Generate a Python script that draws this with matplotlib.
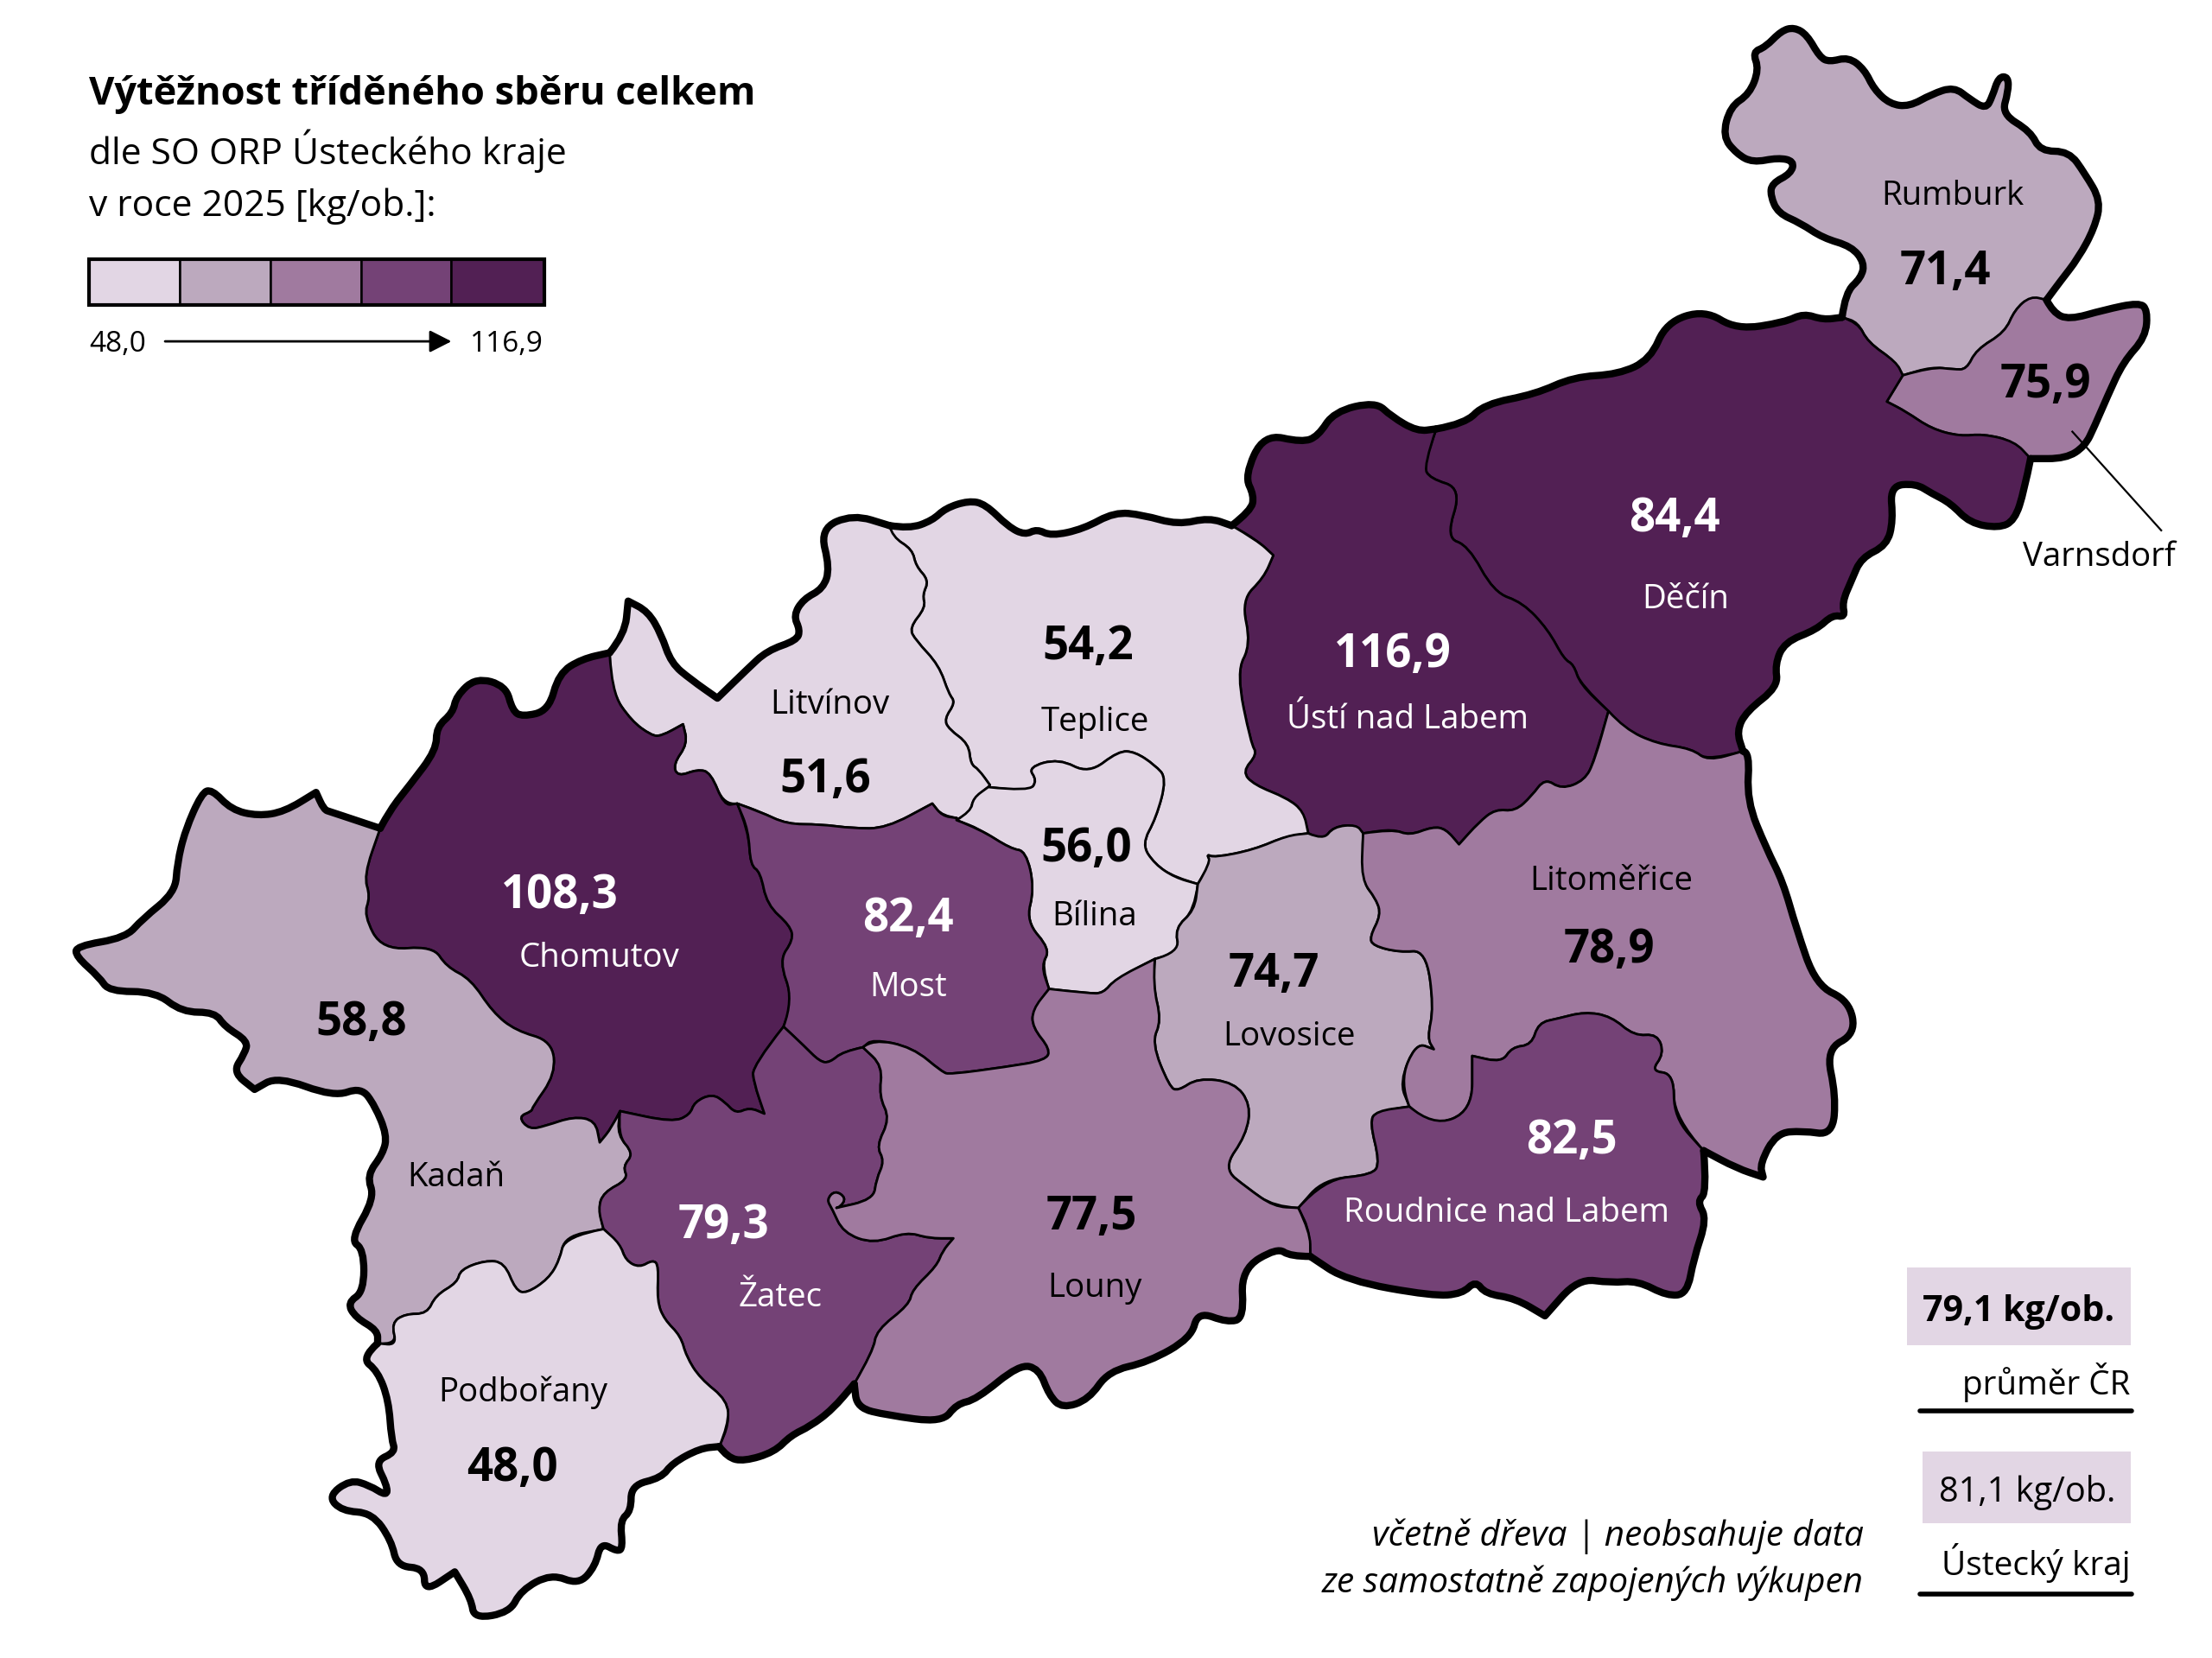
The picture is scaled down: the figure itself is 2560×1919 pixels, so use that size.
#!/usr/bin/env python
import matplotlib
matplotlib.use('Agg')
import matplotlib.pyplot as plt
from matplotlib.path import Path
from matplotlib.patches import PathPatch, Rectangle

plt.rcParams['font.family'] = ['Open Sans', 'DejaVu Sans']

#--values
orp_names = ['Rumburk', 'Varnsdorf', 'Děčín', 'Ústí nad Labem', 'Teplice', 'Litvínov', 'Bílina', 'Chomutov',
             'Most', 'Kadaň', 'Lovosice', 'Litoměřice', 'Roudnice nad Labem', 'Žatec', 'Louny', 'Podbořany']
orp_values = [71.4, 75.9, 84.4, 116.9, 54.2, 51.6, 56.0, 108.3, 82.4, 58.8, 74.7, 78.9, 82.5, 79.3, 77.5, 48.0]
orp_class = [1, 2, 4, 4, 0, 0, 0, 4, 3, 1, 1, 2, 3, 3, 2, 0]
class_colors = ['#E2D6E4', '#BCA9BE', '#A07A9F', '#744276', '#522054']
value_pos = [(1379, 193), (1450, 273), (1187, 368), (987, 464), (771, 459), (585, 553), (770, 602), (397, 635),
             (644, 652), (256, 725), (903, 691), (1141, 674), (1114, 809), (513, 869), (774, 863), (363, 1041)]
name_pos = [(1384, 139), (1488, 395), (1195, 425), (998, 510), (776, 512), (588, 500), (776, 650), (425, 679),
            (644, 700), (323, 835), (914, 735), (1142, 625), (1068, 860), (553, 920), (776, 913), (371, 987)]

title = 'Výtěžnost tříděného sběru celkem'
subtitle = ['dle SO ORP Ústeckého kraje', 'v roce 2025 [kg/ob.]:']
scale_min, scale_max = '48,0', '116,9'
note = ['včetně dřeva | neobsahuje data', 'ze samostatně zapojených výkupen']
cr_avg, kraj_avg = '79,1 kg/ob.', '81,1 kg/ob.'

#--outlines were read from crops of the picture, each list is in its crop's units
#--a point written twice is a sharp tip
z2 = lambda P: [(857.3 + .453*x, .3515*y) for x, y in P]
z3 = lambda P: [(.4687*x, 336.8 + .2929*y) for x, y in P]
z4 = lambda P: [(183.7 + .3906*x, 765.5 + .2613*y) for x, y in P]
z5 = lambda P: [(612.4 + .4687*x, 520.5 + .3124*y) for x, y in P]

arcs = {}
arcs['rum_out'] = z2([(990,640),(995,590),(1020,560),(1025,530),(1005,497),(960,480),(925,450),(890,430),(878,395),(880,370),(910,350),(915,325),(890,318),(850,328),(825,310),(803,275),(815,215),(845,190),(860,140),(850,105),(870,95),(895,62),(915,55),(935,70),(955,115),(970,125),(1000,115),(1025,140),(1040,180),(1065,210),(1095,215),(1130,190),(1165,175),(1190,200),(1215,220),(1225,195),(1235,155),(1250,155),(1250,185),(1240,230),(1285,265),(1300,305),(1345,305),(1370,350),(1395,405),(1385,460),(1360,520),(1330,570),(1310,605)])
arcs['var_out'] = z2([(1310,605),(1320,630),(1345,645),(1400,625),(1455,610),(1468,625),(1465,680),(1430,730),(1405,800),(1385,860),(1370,900),(1340,925),(1285,925)])
arcs['rum_var'] = z2([(1310,605),(1285,597),(1260,625),(1245,670),(1200,705),(1185,745),(1165,745),(1130,740),(1085,757)])
arcs['rum_dec'] = z2([(990,640),(1015,650),(1030,690),(1075,730),(1085,757)])
arcs['var_dec'] = z2([(1085,757),(1060,810),(1060,810),(1090,830),(1130,865),(1175,880),(1210,875),(1260,890),(1285,925)])
arcs['dec_s'] = z2([(1285,925),(1275,990),(1260,1050),(1235,1065),(1190,1055),(1160,1015),(1130,995),(1105,975),(1065,980),(1070,1050),(1060,1100),(1020,1125),(1005,1170),(990,1215),(995,1245),(975,1240),(950,1270),(900,1295),(885,1340),(890,1385),(840,1435),(825,1475),(835,1515)])
arcs['dec_lit'] = z2([(835,1515),(780,1535),(755,1510),(700,1500),(650,1470),(625,1435)])
arcs['dec_ust'] = z2([(355,865),(335,940),(345,965),(395,985),(370,1085),(405,1100),(445,1195),(490,1215),(530,1270),(555,1330),(570,1340),(580,1380),(625,1435)])
arcs['dec_n'] = z2([(355,865),(400,855),(430,815),(510,795),(570,760),(640,755),(690,725),(715,650),(775,625),(825,665),(900,650),(930,632),(960,645),(990,640)])
arcs['ust_out'] = z2([(35,1060),(65,1030),(70,1000),(55,960),(85,875),(145,892),(170,880),(195,830),(260,810),(285,840),(325,870),(355,865)])
arcs['ust_tep'] = z2([(35,1060),(75,1090),(100,1120),(100,1120),(85,1165),(50,1210),(65,1300),(42,1355),(65,1500)]) + z5([(595,45),(572,85),(590,115),(640,145),(665,175),(672,225)])
arcs['ust_lov'] = z5([(672,225),(695,240),(710,210),(745,205),(755,225)])
arcs['ust_lit'] = z5([(755,225),(800,215),(825,230),(860,210),(880,215),(900,250),(900,250),(930,200),(955,170),(985,175),(1010,140),(1030,100),(1055,125),(1090,105),(1105,60),(1126,-52)])
arcs['cho_out'] = z3([(575,855),(590,810),(620,750),(660,665),(660,610),(685,575),(690,535),(720,490),(765,510),(775,570),(790,585),(830,570),(845,480),(880,445),(922,430)])
arcs['lit_out'] = z3([(922,430),(945,385),(950,305),(950,305),(980,330),(1000,385),(1015,455),(1045,495),(1085,540),(1085,540),(1130,470),(1160,425),(1205,400),(1210,375),(1200,340),(1215,300),(1245,275),(1255,225),(1240,130),(1290,95),(1345,122)])
arcs['tep_out'] = z3([(1345,122),(1375,130),(1410,110),(1430,80),(1465,62),(1490,70),(1525,125),(1550,145)]) + [(735,375),(745,380),(768,375),(790,363),(810,365),(835,372),(857,367),(873,372.6)]
arcs['lit_tep'] = z3([(1345,122),(1350,150),(1380,180),(1385,220),(1405,255),(1395,290),(1400,320),(1375,370),(1385,400),(1420,460),(1435,530),(1445,550),(1428,590),(1435,615),(1465,650),(1468,700),(1480,712),(1497,750)])
arcs['bil_tep'] = z5([(188,120),(250,130),(262,105),(248,75),(295,55),(340,90),(385,38),(410,40),(440,70),(458,100),(442,190),(420,250),(440,295),(470,325),(505,340)])
arcs['tep_lov'] = z5([(505,340),(525,290),(518,272),(530,280),(590,262),(640,230),(672,225)])
arcs['lit_bil'] = z5([(188,120),(165,145),(162,175),(140,195)])
arcs['lit_most'] = z3([(1447,830),(1425,825),(1410,795),(1410,795),(1340,855),(1290,855),(1240,845),(1190,845),(1150,815),(1115,795)])
arcs['lit_cho'] = z3([(1115,795),(1095,800),(1075,720),(1055,712),(1025,730),(1018,700),(1040,650),(1033,603),(1033,603),(1000,632),(985,630),(955,595),(925,525),(922,430)])
arcs['cho_most'] = z3([(1115,795),(1132,860),(1135,945),(1150,960),(1160,1040),(1195,1090),(1200,1125),(1178,1175),(1200,1270),(1185,1335)])
arcs['cho_zat'] = z3([(1185,1335),(1138,1430),(1140,1470)]) + z4([(917,92),(917,92),(890,75),(865,92),(845,60),(822,38),(790,60),(782,95),(750,115),(655,85)])
arcs['cho_kad'] = z3([(575,855),(550,970),(560,1020),(550,1065),(578,1150),(655,1140),(675,1190),(712,1220),(745,1300),(780,1345),(835,1370),(840,1450),(805,1530)]) + z4([(495,85),(470,100),(490,135),(520,125),(570,100),(610,110),(618,170),(618,170),(640,130),(655,85)])
arcs['kad_zat'] = z4([(655,85),(650,150),(680,200),(660,235),(670,270),(625,305),(615,350),(625,405)])
arcs['kad_pod'] = z4([(625,405),(555,425),(545,490),(525,540),(485,580),(465,570),(445,495),(410,490),(365,515),(360,550),(320,585),(305,635),(265,635),(240,660),(250,720),(215,715)])
arcs['kad_out'] = z3([(575,855),(500,815),(490,810),(478,768),(478,768),(430,815),(390,825),(350,810),(320,760),(305,770),(280,860),(268,940),(265,1010),(215,1075),(190,1120),(115,1140),(115,1165),(150,1215),(165,1250),(235,1250),(275,1300),(325,1300),(340,1335),(375,1370),(370,1400),(352,1445),(385,1487),(385,1487),(420,1455),(505,1505)]) + z4([(185,20),(210,70),(232,150),(225,200),(195,260),(210,320),(165,435),(190,460),(190,575),(160,605),(175,645),(215,680),(215,715)])
arcs['pod_out'] = z4([(215,715),(185,755),(215,790),(235,870),(240,975),(248,1010),(210,1035),(232,1100),(232,1130),(200,1100),(165,1085),(125,1130),(150,1170),(205,1175),(240,1250),(250,1320),(300,1325),(300,1390),(355,1335),(355,1335),(385,1410),(390,1462),(455,1445),(475,1385),(530,1340),(580,1370),(610,1320),(620,1255),(650,1280),(660,1270),(655,1195),(675,1170),(675,1100),(730,1080),(750,1040),(800,1000),(835,995)])
arcs['pod_zat'] = z4([(625,405),(655,445),(665,490),(690,510),(715,488),(725,505),(722,600),(735,650),(765,695),(775,750),(800,810),(850,870),(852,935),(835,995)])
arcs['zat_out'] = z4([(835,995),(850,1025),(880,1035),(935,1010),(965,965),(1000,940),(1040,895),(1080,825)])
arcs['zat_lou'] = z4([(1080,825),(1115,735),(1120,680),(1180,610),(1185,570),(1230,505),(1240,465),(1260,430),(1260,430),(1215,430),(1175,412),(1115,445),(1060,415),(1040,350),(1030,325),(1045,300),(1065,320),(1055,345),(1040,350),(1115,325),(1120,270),(1135,220),(1120,180),(1145,105),(1125,45)]) + z3([(1335,1430),(1305,1385)])
arcs['most_zat'] = z3([(1185,1335),(1215,1380),(1240,1420),(1255,1422),(1275,1395),(1305,1385)])
arcs['most_lou'] = z3([(1305,1385),(1320,1365),(1380,1385),(1425,1445)]) + z5([(130,772),(215,755),(275,740),(282,715),(255,665),(255,625),(280,578)])
arcs['bil_most'] = z5([(280,578),(268,525),(282,488),(245,425),(258,350),(245,265),(222,260),(175,215),(140,195)])
arcs['bil_lou'] = z5([(280,578),(340,588),(362,588),(380,555),(440,510)])
arcs['bil_lov'] = z5([(505,340),(500,400),(470,440),(478,495),(440,510)])
arcs['lov_lou'] = z5([(440,510),(437,570),(450,650),(435,700),(462,800),(475,810),(505,780),(560,790),(585,840),(578,910),(543,985),(580,1030),(620,1072),(657,1075)])
arcs['lov_rou'] = z5([(657,1075),(695,1010),(770,1000),(780,970),(765,880),(775,855),(825,845)])
arcs['lov_lit'] = z5([(825,845),(810,790),(835,700),(862,715),(862,715),(852,690),(862,620),(850,490),(810,495),(770,480),(765,460),(782,410),(775,375),(752,330),(755,225)])
arcs['lit_rou'] = z5([(825,845),(860,890),(920,855),(920,730),(920,730),(965,745),(980,710),(1010,705),(1020,655),(1050,645),(1090,630),(1130,640),(1165,685),(1200,680),(1210,725),(1190,765),(1225,770),(1225,870),(1270,945)])
arcs['lme_out'] = z2([(835,1515)]) + z5([(1340,40),(1335,150),(1365,260),(1390,335),(1410,440),(1440,570),(1490,605),(1500,680),(1455,715),(1470,820),(1465,910),(1420,900),(1380,905),(1355,975),(1360,1005),(1360,1005),(1320,985),(1270,945)])
arcs['rou_out'] = z5([(1270,945),(1275,1040),(1260,1060),(1275,1100),(1255,1190),(1245,1270),(1215,1275),(1170,1240),(1130,1245),(1080,1235),(1030,1320),(1030,1320),(985,1280),(940,1270),(925,1240),(905,1270),(860,1275),(730,1240),(675,1185)])
arcs['rou_lou'] = z5([(657,1075),(675,1130),(675,1185)])
arcs['lou_out'] = z5([(675,1185),(645,1185),(625,1165),(570,1215),(575,1325),(550,1335),(505,1310),(495,1370),(430,1425),(370,1445),(340,1510),(300,1530),(280,1500),(265,1440),(235,1430),(170,1510),(140,1520)]) + z4([(1240,930),(1140,910),(1085,890),(1080,825)])

#--which arcs close each region, '-' walks the arc backwards
orp_arcs = [
    ['rum_out', 'rum_var', '-rum_dec'],
    ['var_out', '-var_dec', '-rum_var'],
    ['dec_n', 'rum_dec', 'var_dec', 'dec_s', 'dec_lit', '-dec_ust'],
    ['ust_out', 'dec_ust', '-ust_lit', '-ust_lov', '-ust_tep'],
    ['tep_out', 'ust_tep', '-tep_lov', '-bil_tep', '-lit_tep'],
    ['lit_out', 'lit_tep', 'lit_bil', 'lit_most', 'lit_cho'],
    ['bil_tep', 'bil_lov', '-bil_lou', 'bil_most', '-lit_bil'],
    ['cho_out', '-lit_cho', 'cho_most', 'cho_zat', '-cho_kad'],
    ['-lit_most', '-bil_most', '-most_lou', '-most_zat', '-cho_most'],
    ['kad_out', '-kad_pod', '-kad_zat', '-cho_kad'],
    ['tep_lov', 'ust_lov', '-lov_lit', '-lov_rou', '-lov_lou', '-bil_lov'],
    ['ust_lit', '-dec_lit', 'lme_out', '-lit_rou', 'lov_lit'],
    ['lit_rou', 'rou_out', '-rou_lou', 'lov_rou'],
    ['kad_zat', 'pod_zat', 'zat_out', 'zat_lou', '-most_zat', 'cho_zat'],
    ['most_lou', 'bil_lou', 'lov_lou', 'rou_lou', 'lou_out', 'zat_lou'],
    ['pod_out', '-pod_zat', 'kad_pod'],
]
outer_arcs = ['rum_out', 'var_out', 'dec_s', 'lme_out', 'rou_out', 'lou_out', 'zat_out', 'pod_out', 'kad_out',
              'cho_out', 'lit_out', 'tep_out', 'ust_out', 'dec_n']


def smooth(pts):
    #--quadratic pieces through the midpoints, end points stay where they are
    verts, codes = [pts[0]], [Path.LINETO]
    for i in range(1, len(pts) - 1):
        mid = ((pts[i][0] + pts[i+1][0])/2, (pts[i][1] + pts[i+1][1])/2)
        verts += [pts[i], mid]
        codes += [Path.CURVE3, Path.CURVE3]
    verts.append(pts[-1])
    codes.append(Path.LINETO)
    return verts, codes


def get_arc(name):
    if name[0] == '-': return arcs[name[1:]][::-1]
    return arcs[name]


W, H = 1568, 1175.4
fig = plt.figure(figsize=(12.8, 9.595), dpi=200)
ax = fig.add_axes([0, 0, 1, 1])
ax.set_xlim(0, W)
ax.set_ylim(H, 0)
ax.axis('off')

for i in range(len(orp_names)):
    V, C = [], []
    for name in orp_arcs[i]:
        v, c = smooth(get_arc(name))
        V += v
        C += c
    C[0] = Path.MOVETO
    V.append(V[0])
    C.append(Path.CLOSEPOLY)
    ax.add_patch(PathPatch(Path(V, C), fc=class_colors[orp_class[i]], ec='k', lw=1.0, joinstyle='round', zorder=1))

for name in outer_arcs:
    v, c = smooth(arcs[name])
    c[0] = Path.MOVETO
    ax.add_patch(PathPatch(Path(v, c), fill=False, ec='k', lw=3.0, capstyle='round', joinstyle='round', zorder=2))

#--labels
for i in range(len(orp_names)):
    color = 'white' if orp_class[i] >= 3 else 'black'
    val = ('%.1f' % orp_values[i]).replace('.', ',')
    ax.text(*value_pos[i], val, size=19, weight='bold', color=color, ha='center', va='center', zorder=4)
    ax.text(*name_pos[i], orp_names[i], size=13.8, color=color, ha='center', va='center', zorder=4)

#--Varnsdorf leader
ax.plot([1469, 1532], [306, 376], color='k', lw=0.8, zorder=3)

#--title
ax.text(63, 67, title, size=16.3, weight='bold', ha='left', va='center')
ax.text(63, 107, subtitle[0], size=15.3, ha='left', va='center')
ax.text(63, 146, subtitle[1], size=15.3, ha='left', va='center')

#--colour scale
edges = [63, 127.7, 192, 256, 320, 386]
for i in range(5):
    ax.add_patch(Rectangle((edges[i], 184), edges[i+1] - edges[i], 32, fc=class_colors[i], ec='k', lw=0.9))
ax.add_patch(Rectangle((63, 184), 323, 32, fill=False, ec='k', lw=1.5))
ax.text(63, 244, scale_min, size=12, ha='left', va='center')
ax.text(385, 244, scale_max, size=12, ha='right', va='center')
ax.annotate('', xy=(320, 242), xytext=(117, 242),
            arrowprops=dict(arrowstyle='-|>,head_length=0.55,head_width=0.28', color='k', lw=1.0, shrinkA=0, shrinkB=0, mutation_scale=14))

#--averages
ax.add_patch(Rectangle((1352, 898.5), 158.5, 55, fc=class_colors[0], ec='none'))
ax.text(1431, 930, cr_avg, size=14.8, weight='bold', ha='center', va='center')
ax.text(1510, 980, 'průměr ČR', size=13.9, ha='right', va='center')
ax.plot([1361, 1511], [1000.5, 1000.5], color='k', lw=2, solid_capstyle='round')
ax.add_patch(Rectangle((1363, 1029), 147.5, 51, fc=class_colors[0], ec='none'))
ax.text(1437, 1058, kraj_avg, size=14.3, ha='center', va='center')
ax.text(1510, 1108, 'Ústecký kraj', size=14, ha='right', va='center')
ax.plot([1361, 1511], [1130, 1130], color='k', lw=2, solid_capstyle='round')

ax.text(1321, 1089, note[0], size=14.6, style='italic', ha='right', va='center')
ax.text(1321, 1122, note[1], size=14.6, style='italic', ha='right', va='center')

fig.savefig('out.png', dpi=200)
